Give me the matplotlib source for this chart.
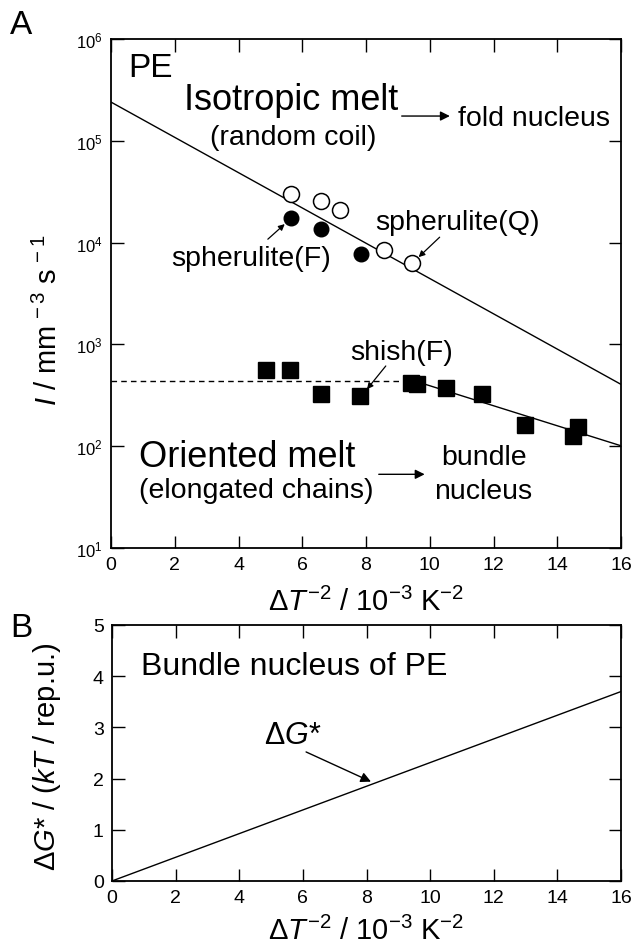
import numpy as np
import matplotlib
matplotlib.use('Agg')
import matplotlib.pyplot as plt

plt.rcParams['font.family'] = ['Liberation Sans', 'DejaVu Sans']
plt.rcParams['mathtext.fontset'] = 'custom'
plt.rcParams['mathtext.rm'] = 'Liberation Sans'
plt.rcParams['mathtext.it'] = 'Liberation Sans:italic'
plt.rcParams['mathtext.bf'] = 'Liberation Sans:bold'

# dados do painel A
esf_q_x = [5.66, 6.6, 7.18, 8.55, 9.45]
esf_q_y = [30000, 25800, 21000, 8400, 6300]
esf_f_x = [5.64, 6.58, 7.84]
esf_f_y = [17300, 13500, 7700]
shish_x = [4.87, 5.6, 6.58, 7.82, 9.4, 9.6, 10.5, 11.65, 13.0, 14.5, 14.65]
shish_y = [560, 560, 326, 313, 415, 405, 370, 326, 162, 127, 153]
iso_x = [0, 16]
iso_y = [2.4e5, 4.05e2]
trac_x = [0, 9.5]
trac_y = [440, 440]
bund_x = [9.5, 16]
bund_y = [440, 101]

# dados do painel B
dg_x = [0, 16]
dg_y = [0, 3.7]

fig = plt.figure(figsize=(6.35, 9.45), dpi=100)


def seta(a, xy, xytext, ms=14, lw=1.0):
    a.annotate('', xy=xy, xytext=xytext,
               arrowprops=dict(arrowstyle='-|>', color='k', lw=lw,
                               mutation_scale=ms, shrinkA=0, shrinkB=0))


def estilo(a):
    a.tick_params(direction='in', length=9, width=1.0, top=True, right=True,
                  labelsize=14, pad=6)
    for s in a.spines.values():
        s.set_linewidth(1.3)


# ---------- painel A ----------
ax = fig.add_axes([0.1748, 0.419, 0.8032, 0.5387])
ax.set_yscale('log')
ax.plot(iso_x, iso_y, color='k', lw=1.0)
ax.plot(trac_x, trac_y, color='k', lw=1.0, ls=(0, (4, 3)))
ax.plot(bund_x, bund_y, color='k', lw=1.0)
ax.plot(esf_q_x, esf_q_y, 'o', mfc='white', mec='k', ms=11.5, mew=1.1)
ax.plot(esf_f_x, esf_f_y, 'o', mfc='k', mec='k', ms=10.5)
ax.plot(shish_x, shish_y, 's', mfc='k', mec='k', ms=11.5)

ax.set_xlim(0, 16)
ax.set_ylim(10, 1e6)
ax.set_xticks(range(0, 17, 2))
ax.set_yticks([1e1, 1e2, 1e3, 1e4, 1e5, 1e6])
ax.set_yticklabels([r'10$^{%d}$' % i for i in range(1, 7)])
ax.minorticks_off()
estilo(ax)
for lab in ax.get_yticklabels():
    lab.set_fontsize(12)
ax.set_xlabel('Δ$T^{-2}$ / 10$^{-3}$ K$^{-2}$', fontsize=21, labelpad=10)
ax.set_ylabel(r'$I$ / mm$^{\,-3}$ s$^{\,-1}$', fontsize=21)
ax.yaxis.set_label_coords(-0.094, 0.45)

ax.text(0.53, 5.3e5, 'PE', fontsize=24, va='center', ha='left')
ax.text(5.66, 2.57e5, 'Isotropic melt', fontsize=26, ha='center', va='center')
ax.text(5.72, 1.08e5, '(random coil)', fontsize=20.5, ha='center', va='center')
seta(ax, (10.63, 1.75e5), (9.12, 1.75e5))
ax.text(10.88, 1.68e5, 'fold nucleus', fontsize=20.5, ha='left', va='center')

ax.text(10.86, 1.6e4, 'spherulite(Q)', fontsize=20.5, ha='center', va='center')
seta(ax, (9.65, 7.2e3), (10.31, 1.13e4), ms=9, lw=0.9)
ax.text(4.39, 7.0e3, 'spherulite(F)', fontsize=20.5, ha='center', va='center')
seta(ax, (5.45, 1.52e4), (4.92, 1.08e4), ms=9, lw=0.9)

ax.text(9.13, 840, 'shish(F)', fontsize=20.5, ha='center', va='center')
seta(ax, (8.03, 363), (8.62, 614), ms=9, lw=0.9)

ax.text(0.88, 80, 'Oriented melt', fontsize=26, ha='left', va='center')
ax.text(0.88, 37, '(elongated chains)', fontsize=20.5, ha='left', va='center')
seta(ax, (9.84, 53), (8.4, 53))
ax.text(11.69, 78, 'bundle', fontsize=20.5, ha='center', va='center')
ax.text(11.69, 36, 'nucleus', fontsize=20.5, ha='center', va='center')

fig.text(0.016, 0.973, 'A', fontsize=24, ha='left', va='center')

# ---------- painel B ----------
bx = fig.add_axes([0.1764, 0.0667, 0.8016, 0.2709])
bx.plot(dg_x, dg_y, color='k', lw=1.0)
bx.set_xlim(0, 16)
bx.set_ylim(0, 5)
bx.set_xticks(range(0, 17, 2))
bx.set_yticks(range(0, 6))
estilo(bx)
bx.set_xlabel('Δ$T^{-2}$ / 10$^{-3}$ K$^{-2}$', fontsize=21, labelpad=7)
bx.set_ylabel('Δ$G$* / ($kT$ / rep.u.)', fontsize=21)
bx.yaxis.set_label_coords(-0.096, 0.49)
bx.text(0.9, 4.2, 'Bundle nucleus of PE', fontsize=23, ha='left', va='center')
bx.text(4.77, 2.85, 'Δ$G$*', fontsize=22, ha='left', va='center')
seta(bx, (8.14, 1.94), (6.1, 2.52), ms=15)

fig.text(0.016, 0.335, 'B', fontsize=24, ha='left', va='center')

fig.savefig('out.png', dpi=100)
